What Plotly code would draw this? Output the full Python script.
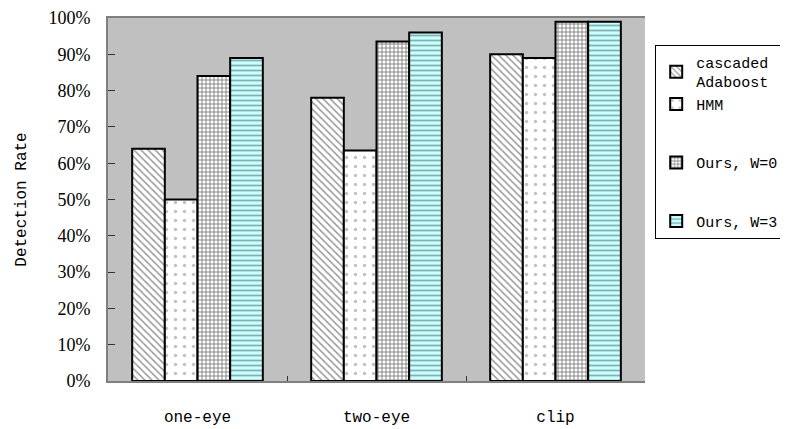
import plotly.graph_objects as go

categories = ["one-eye", "two-eye", "clip"]
series_names = ["cascaded<br>Adaboost", "HMM", "Ours, W=0", "Ours, W=3"]
cascaded = [0.64, 0.78, 0.90]
hmm = [0.50, 0.635, 0.89]
ours_w0 = [0.84, 0.935, 0.99]
ours_w3 = [0.89, 0.96, 0.99]
y_ticks = [0, 0.1, 0.2, 0.3, 0.4, 0.5, 0.6, 0.7, 0.8, 0.9, 1.0]

values = [cascaded, hmm, ours_w0, ours_w3]
styles = [
    dict(bg="white", fg="#333333", shape="\\", size=5, sol=0.3, group="a"),
    dict(bg="white", fg="#888888", shape=".", size=9, sol=0.12, group="a"),
    dict(bg="white", fg="#111111", shape="+", size=4, sol=0.45, group="b"),
    dict(bg="#ccffff", fg="#336666", shape="-", size=5, sol=0.35, group="c"),
]

fig = go.Figure()
for name, vals, st in zip(series_names, values, styles):
    fig.add_trace(go.Bar(
        x=categories, y=vals, name=name, legendgroup=st["group"],
        marker=dict(color=st["bg"], line=dict(color="black", width=2),
                    pattern=dict(shape=st["shape"], fgcolor=st["fg"], bgcolor=st["bg"],
                                 size=st["size"], solidity=st["sol"], fillmode="overlay")),
    ))

font_mono = "Liberation Mono, DejaVu Sans Mono, monospace"
fig.update_layout(
    width=780, height=421,
    margin=dict(l=100, r=143, t=10, b=48, autoexpand=False),
    paper_bgcolor="white", plot_bgcolor="#c0c0c0",
    barmode="group", bargap=0.27, bargroupgap=0,
    showlegend=True,
    legend=dict(x=1.019, xanchor="left", y=0.926, yanchor="top",
                bgcolor="white", bordercolor="black", borderwidth=1,
                font=dict(family=font_mono, size=15, color="black"),
                tracegroupgap=36, traceorder="grouped", itemsizing="constant"),
    font=dict(family="Liberation Serif, serif", color="black"),
)
fig.update_yaxes(range=[0, 1], tickvals=y_ticks, tickformat=".0%",
                 ticks="inside", ticklen=7, tickcolor="#333333",
                 showline=True, linecolor="#808080", linewidth=2,
                 showgrid=False, zeroline=False, ticklabelstandoff=12,
                 tickfont=dict(size=18, family="Liberation Serif, serif"),
                 title=dict(text="Detection Rate", font=dict(size=16, family=font_mono), standoff=18))
fig.update_xaxes(showline=True, linecolor="#808080", linewidth=2, mirror=True,
                 ticks="inside", tickson="boundaries", ticklen=5, tickcolor="#333333",
                 showgrid=False,
                 tickfont=dict(size=16, family=font_mono), ticklabelstandoff=20)
fig.write_html("out.html")
